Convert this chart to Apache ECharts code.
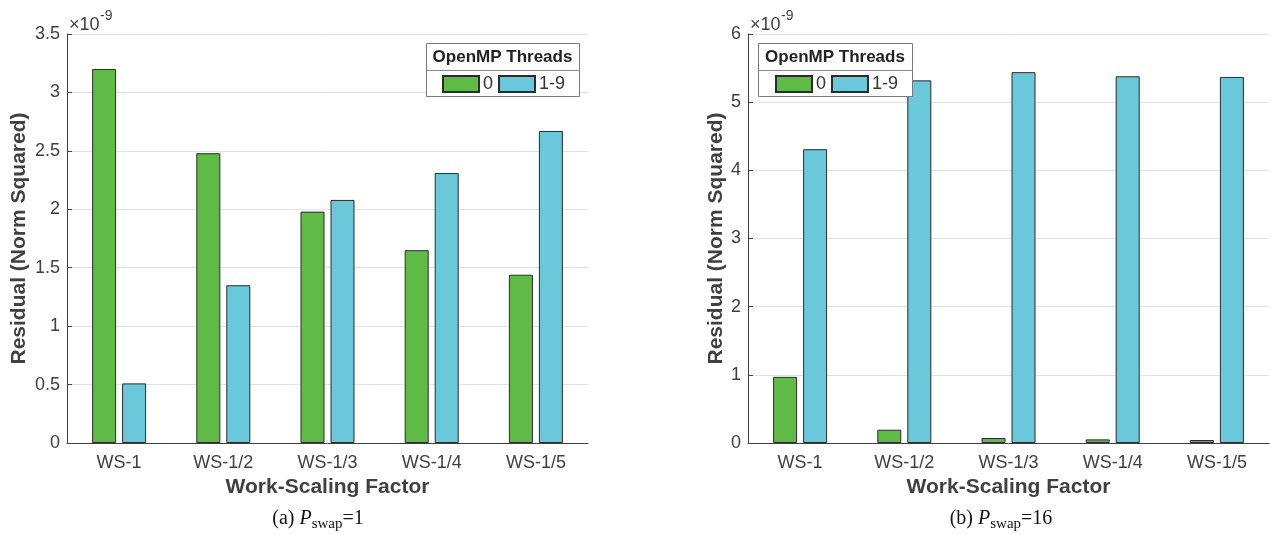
<!DOCTYPE html>
<html>
<head>
<meta charset="utf-8">
<script src="https://cdn.jsdelivr.net/npm/echarts@6/dist/echarts.min.js"></script>
<style>
html,body{margin:0;padding:0;background:#fff;}
#chart{width:1271px;height:535px;}
</style>
</head>
<body>
<div id="chart"></div>
<script>
// Data (residual values in units of 1e-9)
const categories = ['WS-1', 'WS-1/2', 'WS-1/3', 'WS-1/4', 'WS-1/5'];
const seriesNames = ['0', '1-9'];
// (a) P_swap = 1
const swap1_threads0 = [3.20, 2.48, 1.98, 1.65, 1.44];
const swap1_threads19 = [0.51, 1.35, 2.08, 2.31, 2.67];
// (b) P_swap = 16
const swap16_threads0 = [0.97, 0.195, 0.073, 0.053, 0.044];
const swap16_threads19 = [4.31, 5.32, 5.44, 5.38, 5.37];
const yMaxA = 3.5, yStepA = 0.5;
const yMaxB = 6, yStepB = 1;
const legendTitle = 'OpenMP Threads';
const xTitle = 'Work-Scaling Factor';
const yTitle = 'Residual (Norm Squared)';

const GREEN = '#60BB46', BLUE = '#69C9DB', EDGE = '#2b2b2b', AX = '#404040';
const SANS = 'Liberation Sans, Arial, Helvetica, sans-serif';
const SERIF = 'Liberation Serif, Times New Roman, serif';

const chart = echarts.init(document.getElementById('chart'));

function xAxisCfg(gi) {
  return {
    type: 'category', gridIndex: gi, data: categories,
    axisLine: { lineStyle: { color: AX, width: 1 } },
    axisTick: { alignWithLabel: true, inside: true, length: 5, lineStyle: { color: AX } },
    axisLabel: { fontSize: 18, color: AX, margin: 11, fontFamily: SANS },
    name: xTitle, nameLocation: 'middle', nameGap: 34,
    nameTextStyle: { fontSize: 21, fontWeight: 'bold', color: AX, fontFamily: SANS }
  };
}
function yAxisCfg(gi, max, step, gap) {
  return {
    type: 'value', gridIndex: gi, min: 0, max: max, interval: step,
    axisLine: { show: true, lineStyle: { color: AX, width: 1 } },
    axisTick: { show: true, inside: true, length: 5, lineStyle: { color: AX } },
    axisLabel: { fontSize: 18, color: AX, margin: 7, fontFamily: SANS },
    splitLine: { show: true, lineStyle: { color: '#e2e2e2', width: 1 } },
    name: yTitle, nameLocation: 'middle', nameGap: gap, nameRotate: 90,
    nameTextStyle: { fontSize: 21, fontWeight: 'bold', color: AX, fontFamily: SANS }
  };
}
function barSeries(name, data, gi, color) {
  return {
    type: 'bar', name: name, data: data, xAxisIndex: gi, yAxisIndex: gi,
    barWidth: 24, barGap: '25%',
    itemStyle: { color: color, borderColor: EDGE, borderWidth: 1 },
    emphasis: { disabled: true }
  };
}
function legendCfg(left) {
  return {
    left: left, top: 75, orient: 'horizontal', padding: 0,
    itemWidth: 36, itemHeight: 16, itemGap: 5, icon: 'rect',
    data: seriesNames,
    textStyle: { fontSize: 18, color: '#333', fontFamily: SANS, padding: [0, 0, 0, -1] },
    selectedMode: false
  };
}
function legendBox(x, w) {
  return [
    { type: 'rect', z: 3, shape: { x: x + 0.5, y: 43.5, width: w, height: 53 },
      style: { fill: '#fff', stroke: '#7a7a7a', lineWidth: 1 } },
    { type: 'line', z: 3, shape: { x1: x + 0.5, y1: 70.5, x2: x + w + 0.5, y2: 70.5 },
      style: { stroke: '#8a8a8a', lineWidth: 1 } },
    { type: 'text', z: 5, x: x + w / 2, y: 57,
      style: { text: legendTitle, font: 'bold 17px ' + SANS, fill: '#222', align: 'center', verticalAlign: 'middle' } }
  ];
}
function expo(x) {
  return [
    { type: 'text', z: 5, x: x, y: 25,
      style: { text: '×10', font: '18px ' + SANS, fill: AX, align: 'left', verticalAlign: 'middle' } },
    { type: 'text', z: 5, x: x + 31, y: 16,
      style: { text: '-9', font: '14px ' + SANS, fill: AX, align: 'left', verticalAlign: 'middle' } }
  ];
}
function caption(x, label, val) {
  return {
    type: 'text', z: 5, x: x, y: 519,
    style: {
      text: label + ' {i|P}{s|swap}=' + val,
      font: '20px ' + SERIF, fill: '#111', align: 'center', verticalAlign: 'middle', lineHeight: 26,
      rich: {
        i: { fontStyle: 'italic', fontSize: 20, fontFamily: SERIF, fill: '#111' },
        s: { fontSize: 15, fontFamily: SERIF, verticalAlign: 'bottom', fill: '#111' }
      }
    }
  };
}

chart.setOption({
  animation: false,
  backgroundColor: '#fff',
  grid: [
    { left: 67, top: 34, width: 521, height: 409 },
    { left: 748, top: 34, width: 521, height: 409 }
  ],
  xAxis: [xAxisCfg(0), xAxisCfg(1)],
  yAxis: [yAxisCfg(0, yMaxA, yStepA, 37), yAxisCfg(1, yMaxB, yStepB, 21)],
  legend: [legendCfg(442), legendCfg(775)],
  series: [
    barSeries(seriesNames[0], swap1_threads0, 0, GREEN),
    barSeries(seriesNames[1], swap1_threads19, 0, BLUE),
    barSeries(seriesNames[0], swap16_threads0, 1, GREEN),
    barSeries(seriesNames[1], swap16_threads19, 1, BLUE)
  ],
  graphic: [].concat(
    legendBox(426, 153), legendBox(758, 154),
    expo(69), expo(750),
    [caption(318, '(a)', '1'), caption(1001, '(b)', '16')]
  )
});
</script>
</body>
</html>
